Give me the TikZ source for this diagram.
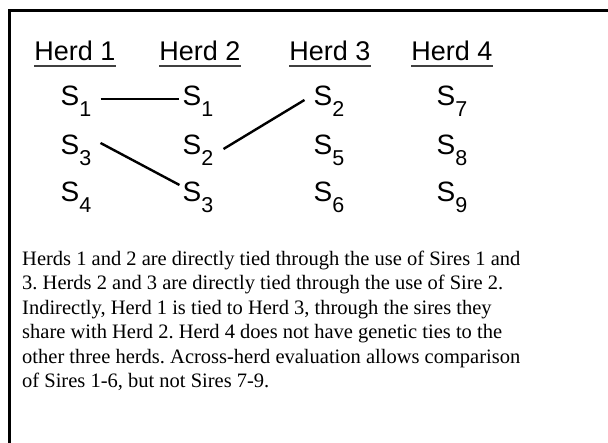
\documentclass[tikz,border=0pt]{standalone}
\usepackage{fontspec}
\setmainfont{Liberation Serif}
\newfontfamily\arialfont{Liberation Sans}
\usetikzlibrary{positioning}
\newcommand{\sirelabel}[1]{S\raisebox{-10.5pt}{\fontsize{21.5}{21.5}\selectfont #1}}
\frenchspacing

\begin{document}
\begin{tikzpicture}[x=1pt,y=1pt,
  herd/.style={font=\arialfont\fontsize{27}{27}\selectfont, anchor=base, inner sep=0pt},
  sire/.style={font=\arialfont\fontsize{28}{28}\selectfont, anchor=base, inner sep=0pt},
  tie/.style={line width=2.4pt},
  underrule/.style={line width=1.5pt, black!75}]
\useasboundingbox (0,0) rectangle (608,443);
\draw[line width=2.2pt] (9.5,0) -- (9.5,432.5) -- (608,432.5);
\foreach \n/\x in {1/75,2/200,3/330,4/452}
{
\node[herd] (h\n) at (\x,382) {Herd \n};
\draw[underrule] ([yshift=-5pt]h\n.base west) -- ([yshift=-5pt]h\n.base east);
}
\foreach \nm/\x/\y/\s in {a1/76/337/1, a3/76/288/3, a4/76/241/4,
  b1/198/337/1, b2/198/288/2, b3/198/241/3,
  c2/329/337/2, c5/329/288/5, c6/329/241/6,
  d7/452/337/7, d8/452/288/8, d9/452/241/9}
\node[sire] (\nm) at (\x,\y) {\sirelabel{\s}};
\draw[tie] ([shift={(9,7)}]a1.base east) -- ([shift={(-3,7)}]b1.base west);
\draw[tie] ([shift={(9,12)}]a3.base east) -- ([shift={(-3,17)}]b3.base west);
\draw[tie] ([shift={(10,6)}]b2.base east) -- ([shift={(-9,6)}]c2.base west);
\node[anchor=base west, align=left, inner sep=0pt, font=\fontsize{20.5}{24.5}\selectfont] (note) at (22,55)
{Herds 1 and 2 are directly tied through the use of Sires 1 and\\
3. Herds 2 and 3 are directly tied through the use of Sire 2.\\
Indirectly, Herd 1 is tied to Herd 3, through the sires they\\
share with Herd 2. Herd 4 does not have genetic ties to the\\
other three herds. Across-herd evaluation allows comparison\\
of Sires 1-6, but not Sires 7-9.};
\end{tikzpicture}
\end{document}
